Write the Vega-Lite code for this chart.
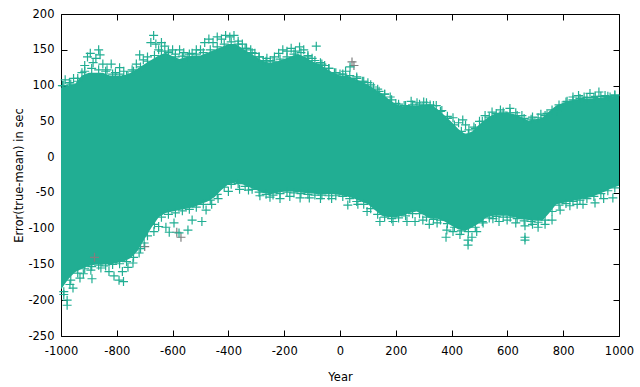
{
  "$schema": "https://vega.github.io/schema/vega-lite/v6.json",
  "width": 558,
  "height": 322,
  "autosize": "none",
  "padding": {"left": 61, "top": 14, "right": 21, "bottom": 51},
  "background": "white",
  "config": {
    "view": {"stroke": "black", "strokeWidth": 1},
    "axis": {
      "domain": false,
      "grid": false,
      "tickColor": "black",
      "tickSize": -6,
      "tickWidth": 1,
      "labelFont": "DejaVu Sans",
      "labelFontSize": 11.5,
      "labelColor": "black",
      "labelExpr": "'' + datum.value",
      "titleFont": "DejaVu Sans",
      "titleFontSize": 11.5,
      "titleFontWeight": "normal",
      "titleColor": "black"
    }
  },
  "datasets": {
    "band": [
      {"year": -1000, "hi": 97, "lo": -185},
      {"year": -975, "hi": 100, "lo": -171},
      {"year": -950, "hi": 102, "lo": -161},
      {"year": -925, "hi": 114, "lo": -156},
      {"year": -900, "hi": 118, "lo": -152},
      {"year": -875, "hi": 118, "lo": -150},
      {"year": -850, "hi": 118, "lo": -150},
      {"year": -825, "hi": 114, "lo": -150},
      {"year": -800, "hi": 114, "lo": -148},
      {"year": -775, "hi": 114, "lo": -146},
      {"year": -750, "hi": 118, "lo": -141},
      {"year": -725, "hi": 124, "lo": -131},
      {"year": -700, "hi": 130, "lo": -114},
      {"year": -675, "hi": 136, "lo": -98},
      {"year": -650, "hi": 142, "lo": -84},
      {"year": -625, "hi": 146, "lo": -78},
      {"year": -600, "hi": 141, "lo": -76},
      {"year": -575, "hi": 137, "lo": -74},
      {"year": -550, "hi": 140, "lo": -72},
      {"year": -525, "hi": 142, "lo": -70},
      {"year": -500, "hi": 142, "lo": -66},
      {"year": -475, "hi": 146, "lo": -62},
      {"year": -450, "hi": 150, "lo": -56},
      {"year": -425, "hi": 154, "lo": -46},
      {"year": -400, "hi": 158, "lo": -38},
      {"year": -375, "hi": 158, "lo": -36},
      {"year": -350, "hi": 152, "lo": -38},
      {"year": -325, "hi": 146, "lo": -42},
      {"year": -300, "hi": 140, "lo": -46},
      {"year": -275, "hi": 134, "lo": -50},
      {"year": -250, "hi": 132, "lo": -52},
      {"year": -225, "hi": 134, "lo": -50},
      {"year": -200, "hi": 137, "lo": -48},
      {"year": -175, "hi": 141, "lo": -48},
      {"year": -150, "hi": 144, "lo": -49},
      {"year": -125, "hi": 140, "lo": -50},
      {"year": -100, "hi": 134, "lo": -51},
      {"year": -75, "hi": 130, "lo": -52},
      {"year": -50, "hi": 124, "lo": -52},
      {"year": -25, "hi": 118, "lo": -52},
      {"year": 0, "hi": 114, "lo": -53},
      {"year": 25, "hi": 114, "lo": -55},
      {"year": 50, "hi": 110, "lo": -58},
      {"year": 75, "hi": 106, "lo": -62},
      {"year": 100, "hi": 101, "lo": -66},
      {"year": 125, "hi": 95, "lo": -74},
      {"year": 150, "hi": 89, "lo": -82},
      {"year": 175, "hi": 81, "lo": -84},
      {"year": 200, "hi": 74, "lo": -84},
      {"year": 225, "hi": 71, "lo": -82},
      {"year": 250, "hi": 72, "lo": -78},
      {"year": 275, "hi": 72, "lo": -76},
      {"year": 300, "hi": 74, "lo": -81},
      {"year": 325, "hi": 74, "lo": -86},
      {"year": 350, "hi": 67, "lo": -86},
      {"year": 375, "hi": 58, "lo": -90},
      {"year": 400, "hi": 49, "lo": -96},
      {"year": 425, "hi": 39, "lo": -101},
      {"year": 450, "hi": 32, "lo": -103},
      {"year": 475, "hi": 36, "lo": -98},
      {"year": 500, "hi": 46, "lo": -92},
      {"year": 525, "hi": 54, "lo": -84},
      {"year": 550, "hi": 60, "lo": -82},
      {"year": 575, "hi": 62, "lo": -82},
      {"year": 600, "hi": 62, "lo": -82},
      {"year": 625, "hi": 60, "lo": -84},
      {"year": 650, "hi": 56, "lo": -87},
      {"year": 675, "hi": 51, "lo": -88},
      {"year": 700, "hi": 53, "lo": -89},
      {"year": 725, "hi": 55, "lo": -89},
      {"year": 750, "hi": 64, "lo": -78},
      {"year": 775, "hi": 72, "lo": -66},
      {"year": 800, "hi": 76, "lo": -64},
      {"year": 825, "hi": 79, "lo": -62},
      {"year": 850, "hi": 81, "lo": -60},
      {"year": 875, "hi": 82, "lo": -58},
      {"year": 900, "hi": 82, "lo": -56},
      {"year": 925, "hi": 83, "lo": -52},
      {"year": 950, "hi": 84, "lo": -48},
      {"year": 975, "hi": 85, "lo": -43},
      {"year": 1000, "hi": 86, "lo": -40}
    ],
    "pts": [
      {"year": -880, "err": -140, "s": "b"},
      {"year": -700, "err": -125, "s": "b"},
      {"year": -585, "err": -105, "s": "b"},
      {"year": -570, "err": -112, "s": "b"},
      {"year": 43, "err": 133, "s": "b"},
      {"year": 50, "err": 128, "s": "b"},
      {"year": -990, "err": 100, "s": "a"},
      {"year": -965, "err": 102, "s": "a"},
      {"year": -940, "err": 110, "s": "a"},
      {"year": -915, "err": 120, "s": "a"},
      {"year": -890, "err": 124, "s": "a"},
      {"year": -865, "err": 122, "s": "a"},
      {"year": -840, "err": 120, "s": "a"},
      {"year": -815, "err": 116, "s": "a"},
      {"year": -790, "err": 116, "s": "a"},
      {"year": -765, "err": 114, "s": "a"},
      {"year": -740, "err": 120, "s": "a"},
      {"year": -715, "err": 126, "s": "a"},
      {"year": -690, "err": 134, "s": "a"},
      {"year": -665, "err": 142, "s": "a"},
      {"year": -640, "err": 148, "s": "a"},
      {"year": -615, "err": 146, "s": "a"},
      {"year": -590, "err": 140, "s": "a"},
      {"year": -565, "err": 141, "s": "a"},
      {"year": -540, "err": 144, "s": "a"},
      {"year": -515, "err": 144, "s": "a"},
      {"year": -490, "err": 146, "s": "a"},
      {"year": -465, "err": 150, "s": "a"},
      {"year": -440, "err": 154, "s": "a"},
      {"year": -415, "err": 158, "s": "a"},
      {"year": -390, "err": 161, "s": "a"},
      {"year": -365, "err": 158, "s": "a"},
      {"year": -340, "err": 152, "s": "a"},
      {"year": -315, "err": 146, "s": "a"},
      {"year": -290, "err": 140, "s": "a"},
      {"year": -265, "err": 134, "s": "a"},
      {"year": -240, "err": 134, "s": "a"},
      {"year": -215, "err": 137, "s": "a"},
      {"year": -190, "err": 140, "s": "a"},
      {"year": -165, "err": 144, "s": "a"},
      {"year": -140, "err": 146, "s": "a"},
      {"year": -115, "err": 140, "s": "a"},
      {"year": -90, "err": 135, "s": "a"},
      {"year": -65, "err": 130, "s": "a"},
      {"year": -40, "err": 124, "s": "a"},
      {"year": -15, "err": 118, "s": "a"},
      {"year": 10, "err": 116, "s": "a"},
      {"year": 35, "err": 114, "s": "a"},
      {"year": 60, "err": 110, "s": "a"},
      {"year": 85, "err": 106, "s": "a"},
      {"year": 110, "err": 101, "s": "a"},
      {"year": 135, "err": 95, "s": "a"},
      {"year": 160, "err": 88, "s": "a"},
      {"year": 185, "err": 80, "s": "a"},
      {"year": 210, "err": 74, "s": "a"},
      {"year": 235, "err": 72, "s": "a"},
      {"year": 260, "err": 73, "s": "a"},
      {"year": 285, "err": 74, "s": "a"},
      {"year": 310, "err": 76, "s": "a"},
      {"year": 335, "err": 72, "s": "a"},
      {"year": 360, "err": 64, "s": "a"},
      {"year": 385, "err": 54, "s": "a"},
      {"year": 410, "err": 45, "s": "a"},
      {"year": 435, "err": 36, "s": "a"},
      {"year": 460, "err": 32, "s": "a"},
      {"year": 485, "err": 40, "s": "a"},
      {"year": 510, "err": 50, "s": "a"},
      {"year": 535, "err": 56, "s": "a"},
      {"year": 560, "err": 61, "s": "a"},
      {"year": 585, "err": 63, "s": "a"},
      {"year": 610, "err": 62, "s": "a"},
      {"year": 635, "err": 58, "s": "a"},
      {"year": 660, "err": 54, "s": "a"},
      {"year": 685, "err": 53, "s": "a"},
      {"year": 710, "err": 55, "s": "a"},
      {"year": 735, "err": 58, "s": "a"},
      {"year": 760, "err": 66, "s": "a"},
      {"year": 785, "err": 73, "s": "a"},
      {"year": 810, "err": 77, "s": "a"},
      {"year": 835, "err": 80, "s": "a"},
      {"year": 860, "err": 82, "s": "a"},
      {"year": 885, "err": 83, "s": "a"},
      {"year": 910, "err": 83, "s": "a"},
      {"year": 935, "err": 85, "s": "a"},
      {"year": 960, "err": 85, "s": "a"},
      {"year": 985, "err": 86, "s": "a"},
      {"year": -990, "err": -188, "s": "a"},
      {"year": -965, "err": -172, "s": "a"},
      {"year": -940, "err": -162, "s": "a"},
      {"year": -915, "err": -156, "s": "a"},
      {"year": -890, "err": -153, "s": "a"},
      {"year": -865, "err": -151, "s": "a"},
      {"year": -840, "err": -152, "s": "a"},
      {"year": -815, "err": -150, "s": "a"},
      {"year": -790, "err": -149, "s": "a"},
      {"year": -765, "err": -146, "s": "a"},
      {"year": -740, "err": -140, "s": "a"},
      {"year": -715, "err": -128, "s": "a"},
      {"year": -690, "err": -110, "s": "a"},
      {"year": -665, "err": -94, "s": "a"},
      {"year": -640, "err": -84, "s": "a"},
      {"year": -615, "err": -80, "s": "a"},
      {"year": -590, "err": -78, "s": "a"},
      {"year": -565, "err": -75, "s": "a"},
      {"year": -540, "err": -73, "s": "a"},
      {"year": -515, "err": -70, "s": "a"},
      {"year": -490, "err": -66, "s": "a"},
      {"year": -465, "err": -60, "s": "a"},
      {"year": -440, "err": -52, "s": "a"},
      {"year": -415, "err": -42, "s": "a"},
      {"year": -390, "err": -38, "s": "a"},
      {"year": -365, "err": -37, "s": "a"},
      {"year": -340, "err": -41, "s": "a"},
      {"year": -315, "err": -45, "s": "a"},
      {"year": -290, "err": -49, "s": "a"},
      {"year": -265, "err": -52, "s": "a"},
      {"year": -240, "err": -53, "s": "a"},
      {"year": -215, "err": -51, "s": "a"},
      {"year": -190, "err": -49, "s": "a"},
      {"year": -165, "err": -50, "s": "a"},
      {"year": -140, "err": -51, "s": "a"},
      {"year": -115, "err": -52, "s": "a"},
      {"year": -90, "err": -53, "s": "a"},
      {"year": -65, "err": -53, "s": "a"},
      {"year": -40, "err": -54, "s": "a"},
      {"year": -15, "err": -54, "s": "a"},
      {"year": 10, "err": -55, "s": "a"},
      {"year": 35, "err": -58, "s": "a"},
      {"year": 60, "err": -62, "s": "a"},
      {"year": 85, "err": -66, "s": "a"},
      {"year": 110, "err": -72, "s": "a"},
      {"year": 135, "err": -80, "s": "a"},
      {"year": 160, "err": -84, "s": "a"},
      {"year": 185, "err": -86, "s": "a"},
      {"year": 210, "err": -85, "s": "a"},
      {"year": 235, "err": -82, "s": "a"},
      {"year": 260, "err": -79, "s": "a"},
      {"year": 285, "err": -79, "s": "a"},
      {"year": 310, "err": -84, "s": "a"},
      {"year": 335, "err": -87, "s": "a"},
      {"year": 360, "err": -88, "s": "a"},
      {"year": 385, "err": -93, "s": "a"},
      {"year": 410, "err": -98, "s": "a"},
      {"year": 435, "err": -103, "s": "a"},
      {"year": 460, "err": -104, "s": "a"},
      {"year": 485, "err": -98, "s": "a"},
      {"year": 510, "err": -90, "s": "a"},
      {"year": 535, "err": -85, "s": "a"},
      {"year": 560, "err": -83, "s": "a"},
      {"year": 585, "err": -84, "s": "a"},
      {"year": 610, "err": -84, "s": "a"},
      {"year": 635, "err": -86, "s": "a"},
      {"year": 660, "err": -89, "s": "a"},
      {"year": 685, "err": -90, "s": "a"},
      {"year": 710, "err": -91, "s": "a"},
      {"year": 735, "err": -88, "s": "a"},
      {"year": 760, "err": -76, "s": "a"},
      {"year": 785, "err": -67, "s": "a"},
      {"year": 810, "err": -65, "s": "a"},
      {"year": 835, "err": -62, "s": "a"},
      {"year": 860, "err": -60, "s": "a"},
      {"year": 885, "err": -58, "s": "a"},
      {"year": 910, "err": -55, "s": "a"},
      {"year": 935, "err": -51, "s": "a"},
      {"year": 960, "err": -47, "s": "a"},
      {"year": 985, "err": -43, "s": "a"},
      {"year": -995, "err": 100, "s": "a"},
      {"year": -985, "err": 108, "s": "a"},
      {"year": -970, "err": 104, "s": "a"},
      {"year": -955, "err": 110, "s": "a"},
      {"year": -940, "err": 106, "s": "a"},
      {"year": -925, "err": 118, "s": "a"},
      {"year": -915, "err": 128, "s": "a"},
      {"year": -905, "err": 140, "s": "a"},
      {"year": -895, "err": 145, "s": "a"},
      {"year": -885, "err": 132, "s": "a"},
      {"year": -875, "err": 138, "s": "a"},
      {"year": -865, "err": 150, "s": "a"},
      {"year": -860, "err": 143, "s": "a"},
      {"year": -850, "err": 130, "s": "a"},
      {"year": -835, "err": 122, "s": "a"},
      {"year": -820, "err": 130, "s": "a"},
      {"year": -805, "err": 118, "s": "a"},
      {"year": -790, "err": 125, "s": "a"},
      {"year": -775, "err": 120, "s": "a"},
      {"year": -760, "err": 114, "s": "a"},
      {"year": -745, "err": 122, "s": "a"},
      {"year": -730, "err": 130, "s": "a"},
      {"year": -718, "err": 143, "s": "a"},
      {"year": -705, "err": 136, "s": "a"},
      {"year": -690, "err": 140, "s": "a"},
      {"year": -678, "err": 160, "s": "a"},
      {"year": -668, "err": 170, "s": "a"},
      {"year": -660, "err": 158, "s": "a"},
      {"year": -650, "err": 150, "s": "a"},
      {"year": -640, "err": 160, "s": "a"},
      {"year": -628, "err": 155, "s": "a"},
      {"year": -615, "err": 148, "s": "a"},
      {"year": -600, "err": 150, "s": "a"},
      {"year": -590, "err": 144, "s": "a"},
      {"year": -575, "err": 150, "s": "a"},
      {"year": -560, "err": 146, "s": "a"},
      {"year": -545, "err": 140, "s": "a"},
      {"year": -530, "err": 145, "s": "a"},
      {"year": -515, "err": 150, "s": "a"},
      {"year": -500, "err": 150, "s": "a"},
      {"year": -485, "err": 160, "s": "a"},
      {"year": -470, "err": 165, "s": "a"},
      {"year": -455, "err": 160, "s": "a"},
      {"year": -440, "err": 168, "s": "a"},
      {"year": -425, "err": 165, "s": "a"},
      {"year": -410, "err": 170, "s": "a"},
      {"year": -395, "err": 168, "s": "a"},
      {"year": -380, "err": 170, "s": "a"},
      {"year": -365, "err": 162, "s": "a"},
      {"year": -350, "err": 158, "s": "a"},
      {"year": -335, "err": 152, "s": "a"},
      {"year": -320, "err": 150, "s": "a"},
      {"year": -305, "err": 145, "s": "a"},
      {"year": -290, "err": 140, "s": "a"},
      {"year": -275, "err": 135, "s": "a"},
      {"year": -262, "err": 138, "s": "a"},
      {"year": -250, "err": 135, "s": "a"},
      {"year": -235, "err": 140, "s": "a"},
      {"year": -220, "err": 145, "s": "a"},
      {"year": -205, "err": 150, "s": "a"},
      {"year": -190, "err": 148, "s": "a"},
      {"year": -175, "err": 152, "s": "a"},
      {"year": -160, "err": 148, "s": "a"},
      {"year": -145, "err": 154, "s": "a"},
      {"year": -130, "err": 150, "s": "a"},
      {"year": -115, "err": 142, "s": "a"},
      {"year": -100, "err": 138, "s": "a"},
      {"year": -85, "err": 155, "s": "a"},
      {"year": -70, "err": 132, "s": "a"},
      {"year": -55, "err": 128, "s": "a"},
      {"year": -40, "err": 124, "s": "a"},
      {"year": -20, "err": 118, "s": "a"},
      {"year": 0, "err": 116, "s": "a"},
      {"year": 20, "err": 120, "s": "a"},
      {"year": 36, "err": 126, "s": "a"},
      {"year": 60, "err": 112, "s": "a"},
      {"year": 80, "err": 106, "s": "a"},
      {"year": 100, "err": 104, "s": "a"},
      {"year": 120, "err": 98, "s": "a"},
      {"year": 140, "err": 92, "s": "a"},
      {"year": 160, "err": 88, "s": "a"},
      {"year": 180, "err": 84, "s": "a"},
      {"year": 200, "err": 75, "s": "a"},
      {"year": 230, "err": 72, "s": "a"},
      {"year": 255, "err": 78, "s": "a"},
      {"year": 276, "err": 76, "s": "a"},
      {"year": 300, "err": 77, "s": "a"},
      {"year": 323, "err": 73, "s": "a"},
      {"year": 345, "err": 72, "s": "a"},
      {"year": 365, "err": 65, "s": "a"},
      {"year": 385, "err": 57, "s": "a"},
      {"year": 405, "err": 55, "s": "a"},
      {"year": 425, "err": 48, "s": "a"},
      {"year": 440, "err": 52, "s": "a"},
      {"year": 450, "err": 45, "s": "a"},
      {"year": 462, "err": 38, "s": "a"},
      {"year": 480, "err": 42, "s": "a"},
      {"year": 500, "err": 50, "s": "a"},
      {"year": 520, "err": 58, "s": "a"},
      {"year": 545, "err": 63, "s": "a"},
      {"year": 575, "err": 66, "s": "a"},
      {"year": 609, "err": 68, "s": "a"},
      {"year": 630, "err": 62, "s": "a"},
      {"year": 652, "err": 58, "s": "a"},
      {"year": 690, "err": 56, "s": "a"},
      {"year": 720, "err": 60, "s": "a"},
      {"year": 742, "err": 61, "s": "a"},
      {"year": 778, "err": 64, "s": "a"},
      {"year": 814, "err": 78, "s": "a"},
      {"year": 835, "err": 84, "s": "a"},
      {"year": 855, "err": 86, "s": "a"},
      {"year": 875, "err": 84, "s": "a"},
      {"year": 896, "err": 89, "s": "a"},
      {"year": 915, "err": 85, "s": "a"},
      {"year": 928, "err": 91, "s": "a"},
      {"year": 950, "err": 86, "s": "a"},
      {"year": 968, "err": 84, "s": "a"},
      {"year": 985, "err": 87, "s": "a"},
      {"year": -990, "err": -192, "s": "a"},
      {"year": -978, "err": -207, "s": "a"},
      {"year": -978, "err": -200, "s": "a"},
      {"year": -968, "err": -178, "s": "a"},
      {"year": -957, "err": -183, "s": "a"},
      {"year": -932, "err": -169, "s": "a"},
      {"year": -920, "err": -163, "s": "a"},
      {"year": -889, "err": -170, "s": "a"},
      {"year": -893, "err": -158, "s": "a"},
      {"year": -857, "err": -155, "s": "a"},
      {"year": -828, "err": -160, "s": "a"},
      {"year": -810, "err": -166, "s": "a"},
      {"year": -792, "err": -172, "s": "a"},
      {"year": -776, "err": -174, "s": "a"},
      {"year": -780, "err": -160, "s": "a"},
      {"year": -760, "err": -154, "s": "a"},
      {"year": -742, "err": -148, "s": "a"},
      {"year": -720, "err": -134, "s": "a"},
      {"year": -702, "err": -120, "s": "a"},
      {"year": -667, "err": -104, "s": "a"},
      {"year": -650, "err": -97, "s": "a"},
      {"year": -624, "err": -98, "s": "a"},
      {"year": -612, "err": -105, "s": "a"},
      {"year": -595, "err": -92, "s": "a"},
      {"year": -577, "err": -106, "s": "a"},
      {"year": -545, "err": -102, "s": "a"},
      {"year": -530, "err": -88, "s": "a"},
      {"year": -495, "err": -90, "s": "a"},
      {"year": -480, "err": -74, "s": "a"},
      {"year": -460, "err": -66, "s": "a"},
      {"year": -437, "err": -58, "s": "a"},
      {"year": -400, "err": -48, "s": "a"},
      {"year": -360, "err": -45, "s": "a"},
      {"year": -328, "err": -46, "s": "a"},
      {"year": -287, "err": -54, "s": "a"},
      {"year": -251, "err": -56, "s": "a"},
      {"year": -215, "err": -58, "s": "a"},
      {"year": -180, "err": -55, "s": "a"},
      {"year": -143, "err": -57, "s": "a"},
      {"year": -110, "err": -57, "s": "a"},
      {"year": -70, "err": -58, "s": "a"},
      {"year": -30, "err": -58, "s": "a"},
      {"year": 28, "err": -67, "s": "a"},
      {"year": 64, "err": -66, "s": "a"},
      {"year": 97, "err": -76, "s": "a"},
      {"year": 143, "err": -90, "s": "a"},
      {"year": 190, "err": -90, "s": "a"},
      {"year": 240, "err": -90, "s": "a"},
      {"year": 269, "err": -90, "s": "a"},
      {"year": 297, "err": -88, "s": "a"},
      {"year": 320, "err": -94, "s": "a"},
      {"year": 348, "err": -92, "s": "a"},
      {"year": 380, "err": -112, "s": "a"},
      {"year": 383, "err": -102, "s": "a"},
      {"year": 405, "err": -104, "s": "a"},
      {"year": 430, "err": -108, "s": "a"},
      {"year": 459, "err": -123, "s": "a"},
      {"year": 459, "err": -116, "s": "a"},
      {"year": 473, "err": -112, "s": "a"},
      {"year": 490, "err": -104, "s": "a"},
      {"year": 513, "err": -92, "s": "a"},
      {"year": 548, "err": -86, "s": "a"},
      {"year": 570, "err": -90, "s": "a"},
      {"year": 599, "err": -88, "s": "a"},
      {"year": 630, "err": -92, "s": "a"},
      {"year": 663, "err": -96, "s": "a"},
      {"year": 663, "err": -112, "s": "a"},
      {"year": 663, "err": -116, "s": "a"},
      {"year": 690, "err": -94, "s": "a"},
      {"year": 710, "err": -98, "s": "a"},
      {"year": 735, "err": -94, "s": "a"},
      {"year": 760, "err": -88, "s": "a"},
      {"year": 789, "err": -74, "s": "a"},
      {"year": 824, "err": -68, "s": "a"},
      {"year": 850, "err": -66, "s": "a"},
      {"year": 871, "err": -66, "s": "a"},
      {"year": 914, "err": -64, "s": "a"},
      {"year": 945, "err": -58, "s": "a"},
      {"year": 978, "err": -57, "s": "a"}
    ]
  },
  "layer": [
    {
      "data": {"name": "band"},
      "mark": {"type": "area", "color": "#21ae93", "opacity": 1},
      "encoding": {
        "x": {
          "field": "year", "type": "quantitative",
          "scale": {"domain": [-1000, 1000], "nice": false, "zero": false},
          "axis": {"orient": "bottom", "values": [-1000, -800, -600, -400, -200, 0, 200, 400, 600, 800, 1000], "title": "Year", "labelPadding": 15, "titlePadding": 15, "labelFlush": false}
        },
        "y": {
          "field": "hi", "type": "quantitative",
          "scale": {"domain": [-250, 200], "nice": false, "zero": false},
          "axis": {"orient": "left", "values": [-250, -200, -150, -100, -50, 0, 50, 100, 150, 200], "title": "Error(true-mean) in sec", "labelPadding": 13, "titlePadding": 3, "labelFlush": false}
        },
        "y2": {"field": "lo"}
      }
    },
    {
      "data": {"name": "pts"},
      "mark": {"type": "point", "shape": "M-1,0H1M0,-1V1", "filled": false, "strokeWidth": 1.2, "size": 81, "opacity": 1},
      "encoding": {
        "x": {
          "field": "year", "type": "quantitative",
          "scale": {"domain": [-1000, 1000], "nice": false, "zero": false},
          "axis": {"orient": "top", "values": [-1000, -800, -600, -400, -200, 0, 200, 400, 600, 800, 1000], "labels": false, "title": null}
        },
        "y": {
          "field": "err", "type": "quantitative",
          "scale": {"domain": [-250, 200], "nice": false, "zero": false},
          "axis": {"orient": "right", "values": [-250, -200, -150, -100, -50, 0, 50, 100, 150, 200], "labels": false, "title": null}
        },
        "color": {"field": "s", "type": "nominal", "scale": {"domain": ["a", "b"], "range": ["#21ae93", "#7f7f7f"]}, "legend": null}
      }
    }
  ],
  "resolve": {"axis": {"x": "independent", "y": "independent"}}
}
